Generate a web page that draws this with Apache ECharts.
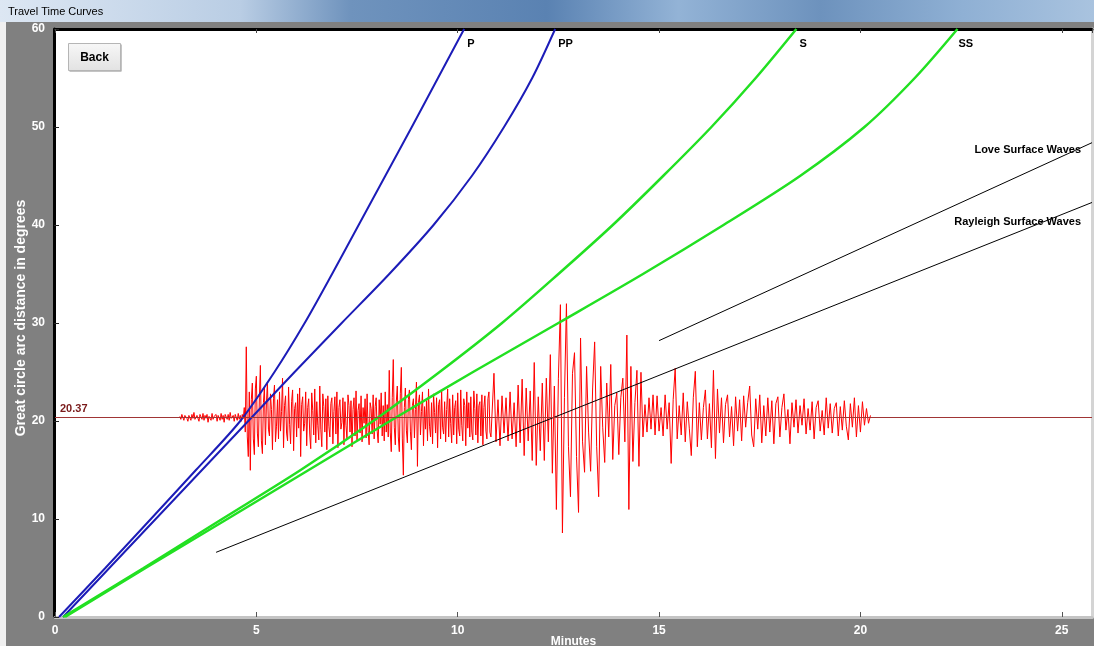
<!DOCTYPE html>
<html><head><meta charset="utf-8">
<script src="https://cdn.jsdelivr.net/npm/echarts@6/dist/echarts.min.js"></script>
<style>html,body{margin:0;padding:0;background:#fff;}#c{width:1094px;height:646px;}</style>
</head><body><div id="c"></div>
<script>
// ---------- data ----------
const distances = [0, 5, 10, 15, 20, 25, 30, 35, 40, 45, 50, 55, 60];
const pTimes  = [0.10, 1.25, 2.38, 3.50, 4.60, 5.45, 6.20, 6.88, 7.54, 8.20, 8.86, 9.51, 10.16];
const ppTimes = [0.20, 1.35, 2.50, 3.65, 4.80, 5.95, 7.12, 8.30, 9.40, 10.35, 11.15, 11.85, 12.42];
const sTimes  = [0.20, 2.20, 4.15, 6.10, 7.90, 9.55, 11.10, 12.50, 13.85, 15.10, 16.30, 17.40, 18.41];
const ssTimes = [0.25, 2.25, 4.28, 6.30, 8.32, 10.38, 12.50, 14.60, 16.60, 18.50, 20.10, 21.35, 22.41];
const loveTimes = [15.0, 25.75];
const loveDist  = [28.2, 48.4];
const rayleighTimes = [4.0, 25.75];
const rayleighDist  = [6.6, 42.3];
const eventDistance = 20.37;
const yAxisTitle = 'Great circle arc distance in degrees';

// seismogram: amplitude (degrees about eventDistance); each segment has a start time and a sample step (min)
const traceNoise = [0.1,-0.2,0.3,0.0,-0.3,0.2,0.4,-0.1,-0.4,0.2, 0.1,-0.3,0.3,-0.1,0.5,-0.2,-0.3,0.2,0.0,-0.4,
  0.3,0.1,-0.2,0.4,-0.3,0.2,-0.1,0.3,-0.5,0.1, 0.2,-0.3,0.4,-0.2,0.1,-0.1,0.3,-0.4,0.2,0.0,
  -0.3,0.4,-0.2,0.2,-0.5,0.3,0.1,-0.2,0.3,-0.3, 0.5,-0.1,-0.2,0.2,-0.4,0.3,0.1,-0.3,0.4,-0.2, 0.2,-0.4,0.3,-0.1];
const traceP = [1.0,-1.5,7.2,-2.0,-4.0,2.6,-5.4,1.8,3.5,-2.2,-3.8,2.9,4.2,-1.6,-3.0,2.0,5.3,-2.4,-3.7,1.5,3.1];
const traceCodaP = [-2.8,1.5,3.6,-1.2,-1.9,2.4,0.8,-3.3,1.9,3.3, -2.5,-0.9,1.8,-2.2,2.6,-1.4,0.6,4.0,-3.1,1.2,
  2.2,-1.6,-2.4,3.1,-0.7,-2.7,1.6,2.8,-3.4,0.9, 1.5,-2.0,2.4,-1.1,3.0,-4.0,1.3,2.1,-1.4,-0.6,
  2.6,-2.9,1.0,1.9,-1.7,-3.2,2.5,0.7,-1.8,2.9, -2.6,1.6,-0.8,-2.3,3.2,-1.2,-3.0,2.4,1.1,-1.5,
  1.9,-3.3,2.2,-0.9,-2.0,1.4,2.0,-2.7,0.6,2.1, -1.7,2.6,-3.1,1.0,1.8,-1.2,-0.5,2.0,-2.8,1.6,
  -0.8,-2.2,2.3,1.2,-1.5,1.7,-3.0,0.8,2.0,-1.9, 2.7,-2.4,0.7,1.4,-1.6,2.2,-2.5,1.0,-0.6,1.9,
  -2.1,2.4,-1.3,-2.8,1.5,0.9,-1.7,2.3,-2.2,1.1, 2.0,-1.4,-2.6,1.8,-0.7,2.5,-1.9,1.2,-2.4,2.6, -1.5,1.3,-2.0];
const traceS = [4.8,-1.5,-3.5,2.0,5.9,-1.0,-2.8,1.6,3.2,-2.0,-3.5,2.4,5.1,-2.2,-5.9,1.0,3.0,-1.3,-2.6,1.8];
const traceCodaS = [2.8,-1.4,-3.3,1.2,1.9,-2.1,0.8,3.6,-5.0,1.5, 2.3,-1.8,0.6,2.6,-2.9,1.1,-1.2,1.7,-2.4,2.9,
  -0.9,-2.0,1.5,-2.7,2.4,0.5,-1.6,2.0,-3.1,1.3, 1.8,-2.2,2.7,-1.0,-1.7,1.6,-2.5,0.8,2.9,-2.0,
  1.9,-0.6,-2.6,2.3,-1.8,1.0,1.7,-2.7,2.5,-1.2, -1.9,2.8,-0.8,-2.4,1.9,1.2,-2.9,2.6,-1.1,1.5,
  -2.0,2.1,-1.5,-2.3,2.7,0.9,-1.8,2.4,-2.6,1.2, 1.6,-1.9,2.3,-2.8,1.0,2.2,-1.4,-2.2,1.9,2.6, -1.5,-2.0];
const traceSurfRise = [-2.0,4.5,-2.5,1.8,-2.9,2.2,-1.6,2.0,-2.4,2.6,-2.2,1.5,-3.0,3.3,-2.6,3.9,-3.9,3.0,-2.4,2.7,-4.4,5.6,-4.9,2.1,-3.4,3.5,-4.4,4.0,-2.5,6.4,-5.7,3.2];
const tracePeak = [-9.4,4.0,11.5,-11.8,2.0,11.6,-3.0,-8.1,4.5,6.6,-4.0,-9.7];
const traceSurf2 = [8.1,-2.5,-5.6,5.2,-1.5,-5.5,3.0,7.7,-3.0,-8.1,5.2,-1.0,-4.6,3.5,-2.0,5.4,-4.3,1.2,2.5,-3.8,2.0,4.0,-2.5,8.4,-9.4,5.2,-4.5,1.5,4.8,-5.0,4.6,-2.0];
const traceSurf3 = [1.3,-1.5,2.0,-1.2,2.3,-1.8,2.2,-1.4,1.0,-1.9,2.3,-1.2,1.5,-4.7,1.8,5.0,-2.2,1.2,-1.8,2.5,-2.5,1.6,-1.1,-3.9,2.0,4.7,-3.0,1.5,-2.3,1.0,2.8,-2.2,1.4,-3.1,4.8,-4.2,2.9,-1.6];
const traceTail1 = [2.0,-2.6,1.3,2.3,-2.0,1.1,-2.9,2.1,-1.4,1.8,-2.4,2.2,-1.0,1.5,3.2,-1.8,-3.0,1.9,-1.2,2.3,-2.6,1.2,-1.9,2.0,-1.5,1.7,-2.7,1.4,2.1,-2.0,1.0,2.4,-1.3,0.8,-2.7,1.5];
const traceTail2 = [-1.0,1.8,-1.6,1.2,-0.8,1.9,-1.7,0.9,-1.3,1.6,-2.2,1.0,1.7,-1.4,0.7,-1.8,2.0,-1.1,1.4,-1.6,0.9,1.5,-1.9,1.1,-1.3,1.7,-0.9,-2.3,1.4,-1.0,2.0,-2.0,1.2,-1.5,1.6,-0.8,0.9,-0.6,0.2];
const traceSegmentStarts = [3.100, 4.700, 5.225, 8.300, 8.800, 10.85, 12.45, 13.05, 14.65, 16.55, 18.35];
const traceSegmentSteps  = [0.025, 0.025, 0.025, 0.025, 0.025, 0.05, 0.05, 0.05, 0.05, 0.05, 0.05];
const traceSegments = [traceNoise, traceP, traceCodaP, traceS, traceCodaS, traceSurfRise, tracePeak, traceSurf2, traceSurf3, traceTail1, traceTail2];

const xMax = 25.75;

// ---------- build ----------
function curve(times) { return distances.map((d, i) => [times[i], d]); }
const traceData = [];
traceSegments.forEach((seg, k) => {
  const t0 = traceSegmentStarts[k], dt = traceSegmentSteps[k];
  seg.forEach((a, i) => traceData.push([+(t0 + i * dt).toFixed(3), +(eventDistance + a).toFixed(3)]));
});

const FONT = '"Liberation Sans Narrow","Liberation Sans",Arial,sans-serif';
const engraved = { color: '#ffffff', fontWeight: 'bold', fontFamily: FONT, fontSize: 12,
  textShadowColor: '#202020', textShadowOffsetX: 1, textShadowOffsetY: 1, textShadowBlur: 0 };
const curveLabel = (txt, off) => ({ show: true, formatter: txt, distance: 8, offset: off,
  color: '#000', fontWeight: 'bold', fontSize: 11, fontFamily: 'Liberation Sans, Arial, sans-serif' });

const chart = echarts.init(document.getElementById('c'), null, { renderer: 'canvas' });
chart.setOption({
  animation: false,
  backgroundColor: '#808080',
  grid: { left: 55, right: 2, top: 29, bottom: 29, show: true, backgroundColor: '#ffffff', borderWidth: 0,
    outerBoundsMode: 'none', containLabel: false },
  xAxis: [{
    type: 'value', min: 0, max: xMax, interval: 5, position: 'bottom',
    name: 'Minutes', nameLocation: 'middle', nameGap: 19, nameMoveOverlap: false,
    nameTextStyle: Object.assign({}, engraved, { fontSize: 12, fontFamily: 'Liberation Sans, Arial, sans-serif', verticalAlign: 'top' }),
    axisLine: { show: true, onZero: false, lineStyle: { color: '#c4c4c4', width: 3 } },
    axisTick: { show: true, inside: true, length: 5, lineStyle: { color: '#555' } },
    axisLabel: Object.assign({}, engraved, { margin: 8, showMaxLabel: false }),
    splitLine: { show: false }
  }, {
    type: 'value', min: 0, max: xMax, interval: 5, position: 'top',
    axisLine: { show: true, onZero: false, lineStyle: { color: '#000', width: 3 } },
    axisTick: { show: true, inside: true, length: 4, lineStyle: { color: '#444' } },
    axisLabel: { show: false }, splitLine: { show: false }
  }],
  yAxis: [{
    type: 'value', min: 0, max: 60, interval: 10, position: 'left', offset: 1,
    axisLine: { show: true, onZero: false, lineStyle: { color: '#000', width: 3 } },
    axisTick: { show: true, inside: true, length: 5, lineStyle: { color: '#222' } },
    axisLabel: Object.assign({}, engraved, { margin: 9 }),
    splitLine: { show: false }
  }, {
    type: 'value', min: 0, max: 60, interval: 10, position: 'right',
    axisLine: { show: true, onZero: false, lineStyle: { color: '#d4d4d4', width: 3 } },
    axisTick: { show: false }, axisLabel: { show: false }, splitLine: { show: false }
  }],
  series: [
    { name: 'Seismogram', type: 'line', data: traceData, showSymbol: false, z: 2,
      lineStyle: { color: '#ff0000', width: 1 }, itemStyle: { color: '#ff0000' } },
    { name: 'Event', type: 'line', data: [], z: 3,
      markLine: { silent: true, symbol: 'none', animation: false,
        lineStyle: { color: '#a03535', width: 1, type: 'solid' },
        label: { show: true, position: 'insideStartTop', formatter: String(eventDistance), color: '#7a1a1a',
          fontWeight: 'bold', fontSize: 11, fontFamily: 'Liberation Sans, Arial, sans-serif', distance: [5, 3] },
        data: [{ yAxis: eventDistance }] } },
    { name: 'P', type: 'line', data: curve(pTimes), smooth: 0.3, showSymbol: false, z: 4,
      lineStyle: { color: '#1c1cb8', width: 2 }, endLabel: curveLabel('P', [-5, 15]) },
    { name: 'PP', type: 'line', data: curve(ppTimes), smooth: 0.3, showSymbol: false, z: 4,
      lineStyle: { color: '#1c1cb8', width: 2 }, endLabel: curveLabel('PP', [-5, 15]) },
    { name: 'S', type: 'line', data: curve(sTimes), smooth: 0.3, showSymbol: false, z: 4,
      lineStyle: { color: '#22e022', width: 2.5 }, endLabel: curveLabel('S', [-5, 15]) },
    { name: 'SS', type: 'line', data: curve(ssTimes), smooth: 0.3, showSymbol: false, z: 4,
      lineStyle: { color: '#22e022', width: 2.5 }, endLabel: curveLabel('SS', [-7, 15]) },
    { name: 'Love', type: 'line', data: loveTimes.map((t, i) => [t, loveDist[i]]), showSymbol: false, z: 4,
      lineStyle: { color: '#000', width: 1 },
      endLabel: Object.assign(curveLabel('Love Surface Waves', [-19, 7]), { align: 'right' }) },
    { name: 'Rayleigh', type: 'line', data: rayleighTimes.map((t, i) => [t, rayleighDist[i]]), showSymbol: false, z: 4,
      lineStyle: { color: '#000', width: 1 },
      endLabel: Object.assign(curveLabel('Rayleigh Surface Waves', [-19, 20]), { align: 'right' }) }
  ],
  graphic: [
    { type: 'rect', left: 0, top: 0, shape: { width: 1094, height: 22 }, z: 100,
      style: { fill: new echarts.graphic.LinearGradient(0, 0, 1, 0, [
        { offset: 0, color: '#dde7f3' }, { offset: 0.22, color: '#b9cde4' },
        { offset: 0.32, color: '#6f93bd' }, { offset: 0.5, color: '#5a82b2' },
        { offset: 0.62, color: '#93b3d6' }, { offset: 0.75, color: '#6d92bd' },
        { offset: 0.88, color: '#8fb0d4' }, { offset: 1, color: '#a9c3df' }]) } },
    { type: 'text', left: 8, top: 6, z: 101,
      style: { text: 'Travel Time Curves', fill: '#000', font: '11px "Liberation Sans", Arial, sans-serif' } },
    { type: 'rect', left: 0, top: 22, shape: { width: 6, height: 624 }, z: 100, style: { fill: '#f0f0f0' } },
    { type: 'text', x: 21, y: 318, rotation: Math.PI / 2, z: 100,
      style: { text: yAxisTitle, align: 'center', verticalAlign: 'middle', fill: '#ffffff',
        font: 'bold 14px "Liberation Sans", Arial, sans-serif',
        textShadowColor: '#202020', textShadowOffsetX: 1, textShadowOffsetY: 1, textShadowBlur: 0 } },
    { type: 'group', left: 68, top: 43, z: 100, children: [
      { type: 'rect', shape: { x: 1, y: 1, width: 52, height: 27 }, style: { fill: '#8a8a8a' } },
      { type: 'rect', shape: { x: 0, y: 0, width: 52, height: 27 },
        style: { fill: new echarts.graphic.LinearGradient(0, 0, 0, 1, [
          { offset: 0, color: '#f7f7f7' }, { offset: 1, color: '#e2e2e2' }]), stroke: '#b5b5b5', lineWidth: 1 } },
      { type: 'text', style: { x: 26, y: 14, text: 'Back', align: 'center', verticalAlign: 'middle',
        fill: '#000', font: 'bold 12px "Liberation Sans", Arial, sans-serif' } }
    ] }
  ]
});
</script></body></html>
